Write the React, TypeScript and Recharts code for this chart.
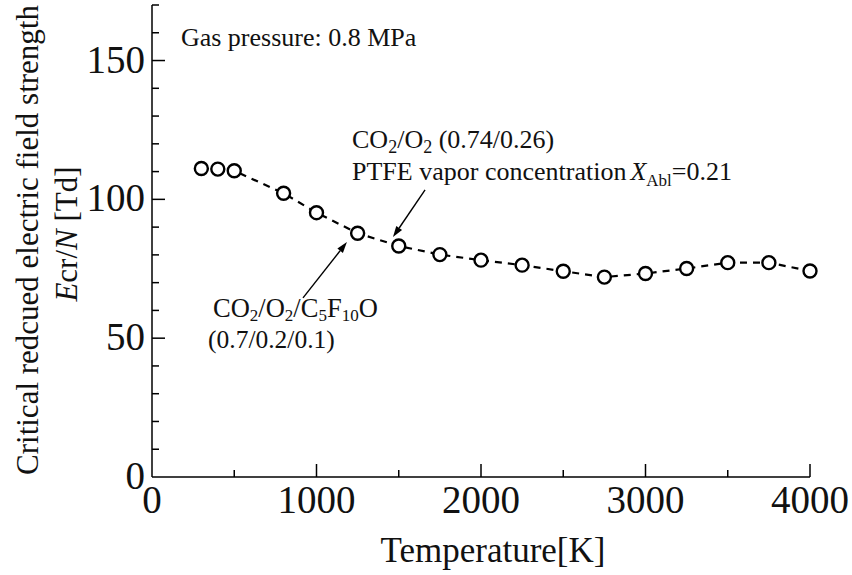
import React from 'react';
import { LineChart, Line, XAxis, YAxis, ReferenceLine, ReferenceDot } from 'recharts';

const temperatures = [300, 400, 500, 800, 1000, 1250, 1500, 1750, 2000, 2250, 2500, 2750, 3000, 3250, 3500, 3750, 4000];
const ecrValues = [111.1, 110.9, 110.3, 102.2, 95.2, 87.8, 83.2, 80.1, 78.1, 76.3, 74.1, 72.0, 73.3, 75.1, 77.2, 77.2, 74.2];
const xTicks = [0, 500, 1000, 1500, 2000, 2500, 3000, 3500, 4000];
const yTicks = [0, 10, 20, 30, 40, 50, 60, 70, 80, 90, 100, 110, 120, 130, 140, 150, 160, 170];

const data = temperatures.map((t, i) => ({ t, e: ecrValues[i] }));

const FONT = 'Liberation Serif, Times New Roman, serif';
const INK = '#111';

const XTick = (props: any) => {
  const { x, y, payload } = props;
  const v = payload.value;
  const major = v % 1000 === 0;
  const len = major ? 13 : 7;
  return (
    <g>
      {v !== 0 ? <line x1={x} x2={x} y1={y} y2={y - len} stroke="#000" strokeWidth={1.5} /> : null}
      {major ? (
        <text x={x} y={y + 36} textAnchor="middle" fontFamily={FONT} fontSize={39} fill={INK}>
          {v}
        </text>
      ) : null}
    </g>
  );
};

const YTick = (props: any) => {
  const { x, y, payload } = props;
  const v = payload.value;
  const major = v % 50 === 0;
  const len = major ? 13 : 7;
  return (
    <g>
      {v !== 0 ? <line x1={x} x2={x + len} y1={y} y2={y} stroke="#000" strokeWidth={1.5} /> : null}
      {major ? (
        <text x={x - 7} y={y + 12} textAnchor="end" fontFamily={FONT} fontSize={39} fill={INK}>
          {v}
        </text>
      ) : null}
    </g>
  );
};

const Arrow = (props: any) => {
  const { x1, y1, x2, y2 } = props;
  const dx = x2 - x1;
  const dy = y2 - y1;
  const len = Math.hypot(dx, dy) || 1;
  const ux = dx / len;
  const uy = dy / len;
  const hl = 11;
  const hw = 3.5;
  const bx = x2 - ux * hl;
  const by = y2 - uy * hl;
  return (
    <g>
      <line x1={x1} y1={y1} x2={bx} y2={by} stroke="#000" strokeWidth={1.4} />
      <polygon points={`${x2},${y2} ${bx - uy * hw},${by + ux * hw} ${bx + uy * hw},${by - ux * hw}`} fill="#000" />
    </g>
  );
};

const Dot = (props: any) => {
  const { cx, cy, index } = props;
  return <circle key={`d${index}`} cx={cx} cy={cy} r={6.5} fill="#fff" stroke="#000" strokeWidth={2.4} />;
};

const GasLabel = (p: any) => (
  <text x={p.cx} y={p.cy} fontFamily={FONT} fontSize={26} fill={INK}>
    Gas pressure: 0.8 MPa
  </text>
);

const UpperLabel = (p: any) => (
  <text x={p.cx} y={p.cy} fontFamily={FONT} fontSize={26} fill={INK}>
    CO<tspan dy={5} fontSize={18}>2</tspan>
    <tspan dy={-5}>/O</tspan>
    <tspan dy={5} fontSize={18}>2</tspan>
    <tspan dy={-5}> (0.74/0.26)</tspan>
    <tspan x={p.cx} dy={32}>PTFE vapor concentration</tspan>
    <tspan dx={4} fontStyle="italic">X</tspan>
    <tspan dy={6} fontSize={17}>Abl</tspan>
    <tspan dy={-6}>=0.21</tspan>
  </text>
);

const LowerLabel = (p: any) => (
  <text x={p.cx} y={p.cy} fontFamily={FONT} fontSize={26.5} fill={INK}>
    CO<tspan dy={4} fontSize={17}>2</tspan>
    <tspan dy={-4}>/O</tspan>
    <tspan dy={4} fontSize={17}>2</tspan>
    <tspan dy={-4}>/C</tspan>
    <tspan dy={4} fontSize={17}>5</tspan>
    <tspan dy={-4}>F</tspan>
    <tspan dy={4} fontSize={17}>10</tspan>
    <tspan dy={-4}>O</tspan>
    <tspan x={p.cx - 5} dy={31} fontSize={25.5}>(0.7/0.2/0.1)</tspan>
  </text>
);

const XTitle = (props: any) => {
  const vb = props.viewBox || { x: 152, y: 477, width: 658 };
  return (
    <text x={vb.x + vb.width / 2 + 12} y={vb.y + 85} textAnchor="middle" fontFamily={FONT} fontSize={35} fill={INK}>
      Temperature[K]
    </text>
  );
};

const YTitle = () => {
  const cy1 = 240;
  const cy2 = 234;
  return (
    <g>
      <text transform={`translate(38, ${cy1}) rotate(-90)`} textAnchor="middle" fontFamily={FONT} fontSize={31} fill={INK}>
        Critical redcued electric field strength
      </text>
      <text transform={`translate(77, ${cy2}) rotate(-90)`} textAnchor="middle" fontFamily={FONT} fontSize={31} fill={INK}>
        <tspan fontStyle="italic">E</tspan>cr/<tspan fontStyle="italic">N</tspan> [Td]
      </text>
    </g>
  );
};

export default function App() {
  return (
    <div style={{ position: 'absolute', left: 0, top: 0, width: 852, height: 575, background: '#fff' }}>
      <LineChart width={852} height={575} data={data} margin={{ top: 5, right: 42, bottom: 38, left: 52 }}>
        <XAxis
          dataKey="t"
          type="number"
          domain={[0, 4000]}
          ticks={xTicks}
          interval={0}
          height={60}
          tickSize={0}
          tickMargin={0}
          tickLine={false}
          axisLine={{ stroke: '#000', strokeWidth: 1.5 }}
          tick={<XTick />}
          label={<XTitle />}
        />
        <YAxis
          type="number"
          domain={[0, 170]}
          ticks={yTicks}
          interval={0}
          width={100}
          tickSize={0}
          tickMargin={0}
          tickLine={false}
          axisLine={{ stroke: '#000', strokeWidth: 1.5 }}
          tick={<YTick />}
          label={<YTitle />}
        />
        <ReferenceLine segment={[{ x: 1660, y: 103.4 }, { x: 1465, y: 86.4 }]} shape={Arrow} />
        <ReferenceLine segment={[{ x: 918, y: 64.5 }, { x: 1185, y: 84.6 }]} shape={Arrow} />
        <Line
          type="linear"
          dataKey="e"
          stroke="#000"
          strokeWidth={2.2}
          strokeDasharray="7 6"
          dot={Dot}
          activeDot={false}
          isAnimationActive={false}
        />
        <ReferenceDot x={176} y={155.2} r={0} shape={GasLabel} ifOverflow="visible" />
        <ReferenceDot x={1216} y={118.5} r={0} shape={UpperLabel} ifOverflow="visible" />
        <ReferenceDot x={371} y={57.6} r={0} shape={LowerLabel} ifOverflow="visible" />
      </LineChart>
    </div>
  );
}
